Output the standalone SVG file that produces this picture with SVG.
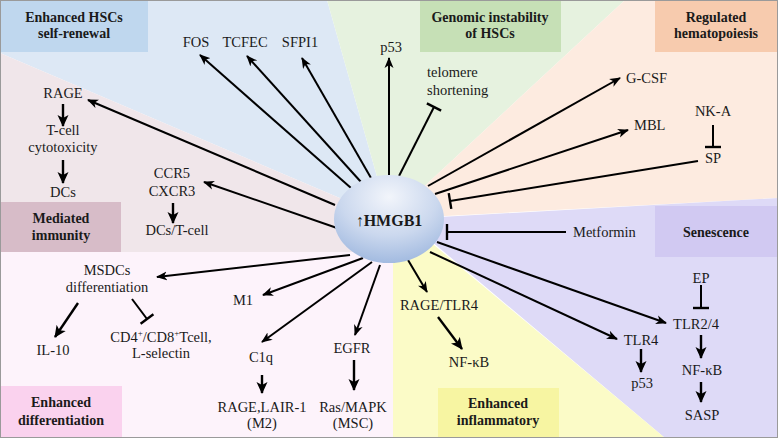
<svg xmlns="http://www.w3.org/2000/svg" width="778" height="438" viewBox="0 0 778 438">
<defs>
<marker id="ah" markerUnits="userSpaceOnUse" markerWidth="12" markerHeight="10" refX="10" refY="5" orient="auto">
<path d="M0,0.5 L11,5 L0,9.5 L3,5 z" fill="#000"/>
</marker>
<marker id="ahb" markerUnits="userSpaceOnUse" markerWidth="14" markerHeight="12" refX="11" refY="6" orient="auto">
<path d="M0,0.5 L12,6 L0,11.5 L3,6 z" fill="#000"/>
</marker>
<marker id="tb" markerUnits="userSpaceOnUse" markerWidth="4" markerHeight="18" refX="2" refY="9" orient="auto">
<path d="M2,1 L2,17" stroke="#000" stroke-width="2.4"/>
</marker>
<radialGradient id="hg" cx="0.5" cy="0.25" r="0.8">
<stop offset="0" stop-color="#f2f5fb"/>
<stop offset="0.55" stop-color="#cbd8ee"/>
<stop offset="1" stop-color="#9cb6de"/>
</radialGradient>
<style>
text{font-family:'Liberation Serif','Times New Roman',serif}
.t{font-size:14.5px;fill:#1a1a1a;text-anchor:middle}
.tl{text-anchor:start}
.h{font-size:14px;font-weight:bold;fill:#1a1a1a;text-anchor:middle}
.c{stroke:#000;stroke-width:2;fill:none}
.a{marker-end:url(#ah)}
.s{stroke-width:2.4;marker-end:url(#ahb)}
.i{marker-end:url(#tb)}
</style>
</defs>
<g id="background">
<polygon points="0,0 327,0 389,219 0,53" fill="#dde8f5"/>
<polygon points="327,0 625,0 389,219" fill="#e6f2df"/>
<polygon points="625,0 778,0 778,198 389,219" fill="#fdebe0"/>
<polygon points="778,198 778,438 665,438 405,219" fill="#dedaf7"/>
<polygon points="393,225 410,225 665,438 393,438" fill="#fbfbc7"/>
<polygon points="0,252 393,252 393,438 0,438" fill="#fdf3fb"/>
<polygon points="0,53 389,219 389,252 0,252" fill="#f0e6ea"/>
</g>
<g id="label-hsc-self-renewal">
<rect x="0" y="0" width="148" height="52" fill="#bfd7ee"/>
<text class="h" x="74" y="22">Enhanced HSCs</text>
<text class="h" x="74" y="38">self-renewal</text>
</g>
<g id="label-genomic-instability">
<rect x="420" y="0" width="141" height="52" fill="#c6e0b6"/>
<text class="h" x="490" y="22">Genomic instability</text>
<text class="h" x="490" y="38">of HSCs</text>
</g>
<g id="label-regulated-hematopoiesis">
<rect x="655" y="0" width="123" height="52" fill="#f7cbae"/>
<text class="h" x="716" y="22">Regulated</text>
<text class="h" x="716" y="38">hematopoiesis</text>
</g>
<g id="label-mediated-immunity">
<rect x="0" y="202" width="121" height="50" fill="#d7bcc8"/>
<text class="h" x="61" y="223">Mediated</text>
<text class="h" x="61" y="240">immunity</text>
</g>
<g id="label-senescence">
<rect x="655" y="206" width="123" height="51" fill="#d1c9f2"/>
<text class="h" x="716" y="237">Senescence</text>
</g>
<g id="label-enhanced-differentiation">
<rect x="0" y="386" width="122" height="52" fill="#fad2ee"/>
<text class="h" x="61" y="407">Enhanced</text>
<text class="h" x="61" y="425">differentiation</text>
</g>
<g id="label-enhanced-inflammatory">
<rect x="438" y="388" width="121" height="50" fill="#f7f5a2"/>
<text class="h" x="498" y="408">Enhanced</text>
<text class="h" x="498" y="425">inflammatory</text>
</g>
<g id="connectors">
<line class="c a" x1="351" y1="188" x2="200" y2="55"/>
<line class="c a" x1="361" y1="182" x2="247" y2="56"/>
<line class="c a" x1="371" y1="178" x2="302" y2="58"/>
<line class="c a" x1="389" y1="176" x2="389" y2="58"/>
<line class="c i" x1="399" y1="176" x2="434" y2="107"/>
<line class="c a" x1="428" y1="186" x2="620" y2="78"/>
<line class="c a" x1="435" y1="194" x2="628" y2="130"/>
<line class="c i" x1="698" y1="161" x2="450" y2="201"/>
<line class="c i" x1="566" y1="232" x2="447" y2="232"/>
<line class="c a" x1="335" y1="205" x2="88" y2="100"/>
<line class="c a" x1="337" y1="228" x2="204" y2="182"/>
<line class="c a" x1="350" y1="255" x2="157" y2="277"/>
<line class="c a" x1="363" y1="258" x2="263" y2="295"/>
<line class="c a" x1="372" y1="262" x2="262" y2="342"/>
<line class="c a" x1="380" y1="265" x2="355" y2="335"/>
<line class="c a" x1="408" y1="260" x2="427" y2="292"/>
<line class="c a" x1="430" y1="252" x2="617" y2="339"/>
<line class="c a" x1="437" y1="242" x2="666" y2="323"/>
<line class="c s" x1="63" y1="104" x2="63" y2="126"/>
<line class="c s" x1="63" y1="160" x2="63" y2="183"/>
<line class="c s" x1="173" y1="203" x2="173" y2="223"/>
<line class="c s" x1="78" y1="303" x2="55" y2="337"/>
<line class="c i" x1="132" y1="299" x2="147" y2="319"/>
<line class="c s" x1="262" y1="375" x2="262" y2="393"/>
<line class="c s" x1="354" y1="360" x2="354" y2="390"/>
<line class="c s" x1="438" y1="317" x2="462" y2="349"/>
<line class="c s" x1="641" y1="349" x2="641" y2="372"/>
<line class="c i" x1="701" y1="285" x2="701" y2="308"/>
<line class="c s" x1="701" y1="335" x2="701" y2="358"/>
<line class="c s" x1="701" y1="382" x2="701" y2="402"/>
<line class="c i" x1="713" y1="125" x2="713" y2="147"/>
</g>
<g id="hmgb1">
<ellipse cx="389" cy="219" rx="55" ry="44" fill="url(#hg)"/>
<text x="389" y="226" font-size="16" font-weight="bold" fill="#1a1a1a" text-anchor="middle"><tspan font-weight="normal">↑</tspan>HMGB1</text>
</g>
<g id="fos"><text class="t" x="196" y="47">FOS</text></g>
<g id="tcfec"><text class="t" x="245" y="47">TCFEC</text></g>
<g id="sfpi1"><text class="t" x="300" y="47">SFPI1</text></g>
<g id="p53-top"><text class="t" x="391" y="52">p53</text></g>
<g id="telomere"><text class="t tl" x="427" y="77">telomere</text><text class="t tl" x="427" y="95">shortening</text></g>
<g id="gcsf"><text class="t tl" x="626" y="83">G-CSF</text></g>
<g id="mbl"><text class="t tl" x="634" y="130">MBL</text></g>
<g id="nka"><text class="t" x="713" y="116">NK-A</text></g>
<g id="sp"><text class="t" x="713" y="163">SP</text></g>
<g id="metformin"><text class="t tl" x="573" y="237">Metformin</text></g>
<g id="rage-left"><text class="t" x="63" y="98">RAGE</text></g>
<g id="tcell"><text class="t" x="63" y="135">T-cell</text><text class="t" x="63" y="152">cytotoxicity</text></g>
<g id="dcs"><text class="t" x="63" y="197">DCs</text></g>
<g id="ccr5"><text class="t" x="172" y="178">CCR5</text><text class="t" x="172" y="196">CXCR3</text></g>
<g id="dcs-tcell"><text class="t" x="177" y="235">DCs/T-cell</text></g>
<g id="msdcs"><text class="t" x="107" y="275">MSDCs</text><text class="t" x="107" y="292">differentiation</text></g>
<g id="il10"><text class="t" x="53" y="355">IL-10</text></g>
<g id="cd4"><text class="t" x="161" y="342">CD4<tspan font-size="9" dy="-6">+</tspan><tspan dy="6">/CD8</tspan><tspan font-size="9" dy="-6">+</tspan><tspan dy="6">Tcell,</tspan></text><text class="t" x="161" y="358">L-selectin</text></g>
<g id="m1"><text class="t" x="243" y="305">M1</text></g>
<g id="c1q"><text class="t" x="261" y="362">C1q</text></g>
<g id="rage-lair"><text class="t" x="262" y="412">RAGE,LAIR-1</text><text class="t" x="262" y="428">(M2)</text></g>
<g id="egfr"><text class="t" x="352" y="353">EGFR</text></g>
<g id="ras-mapk"><text class="t" x="353" y="412">Ras/MAPK</text><text class="t" x="353" y="428">(MSC)</text></g>
<g id="rage-tlr4"><text class="t" x="439" y="310">RAGE/TLR4</text></g>
<g id="nfkb-1"><text class="t" x="469" y="367">NF-κB</text></g>
<g id="tlr4"><text class="t" x="641" y="345">TLR4</text></g>
<g id="p53-bottom"><text class="t" x="642" y="388">p53</text></g>
<g id="ep"><text class="t" x="701" y="283">EP</text></g>
<g id="tlr24"><text class="t" x="696" y="329">TLR2/4</text></g>
<g id="nfkb-2"><text class="t" x="702" y="375">NF-κB</text></g>
<g id="sasp"><text class="t" x="702" y="420">SASP</text></g>
<rect x="0.5" y="0.5" width="777" height="437" fill="none" stroke="#9a9a9a" stroke-width="1"/>
</svg>
